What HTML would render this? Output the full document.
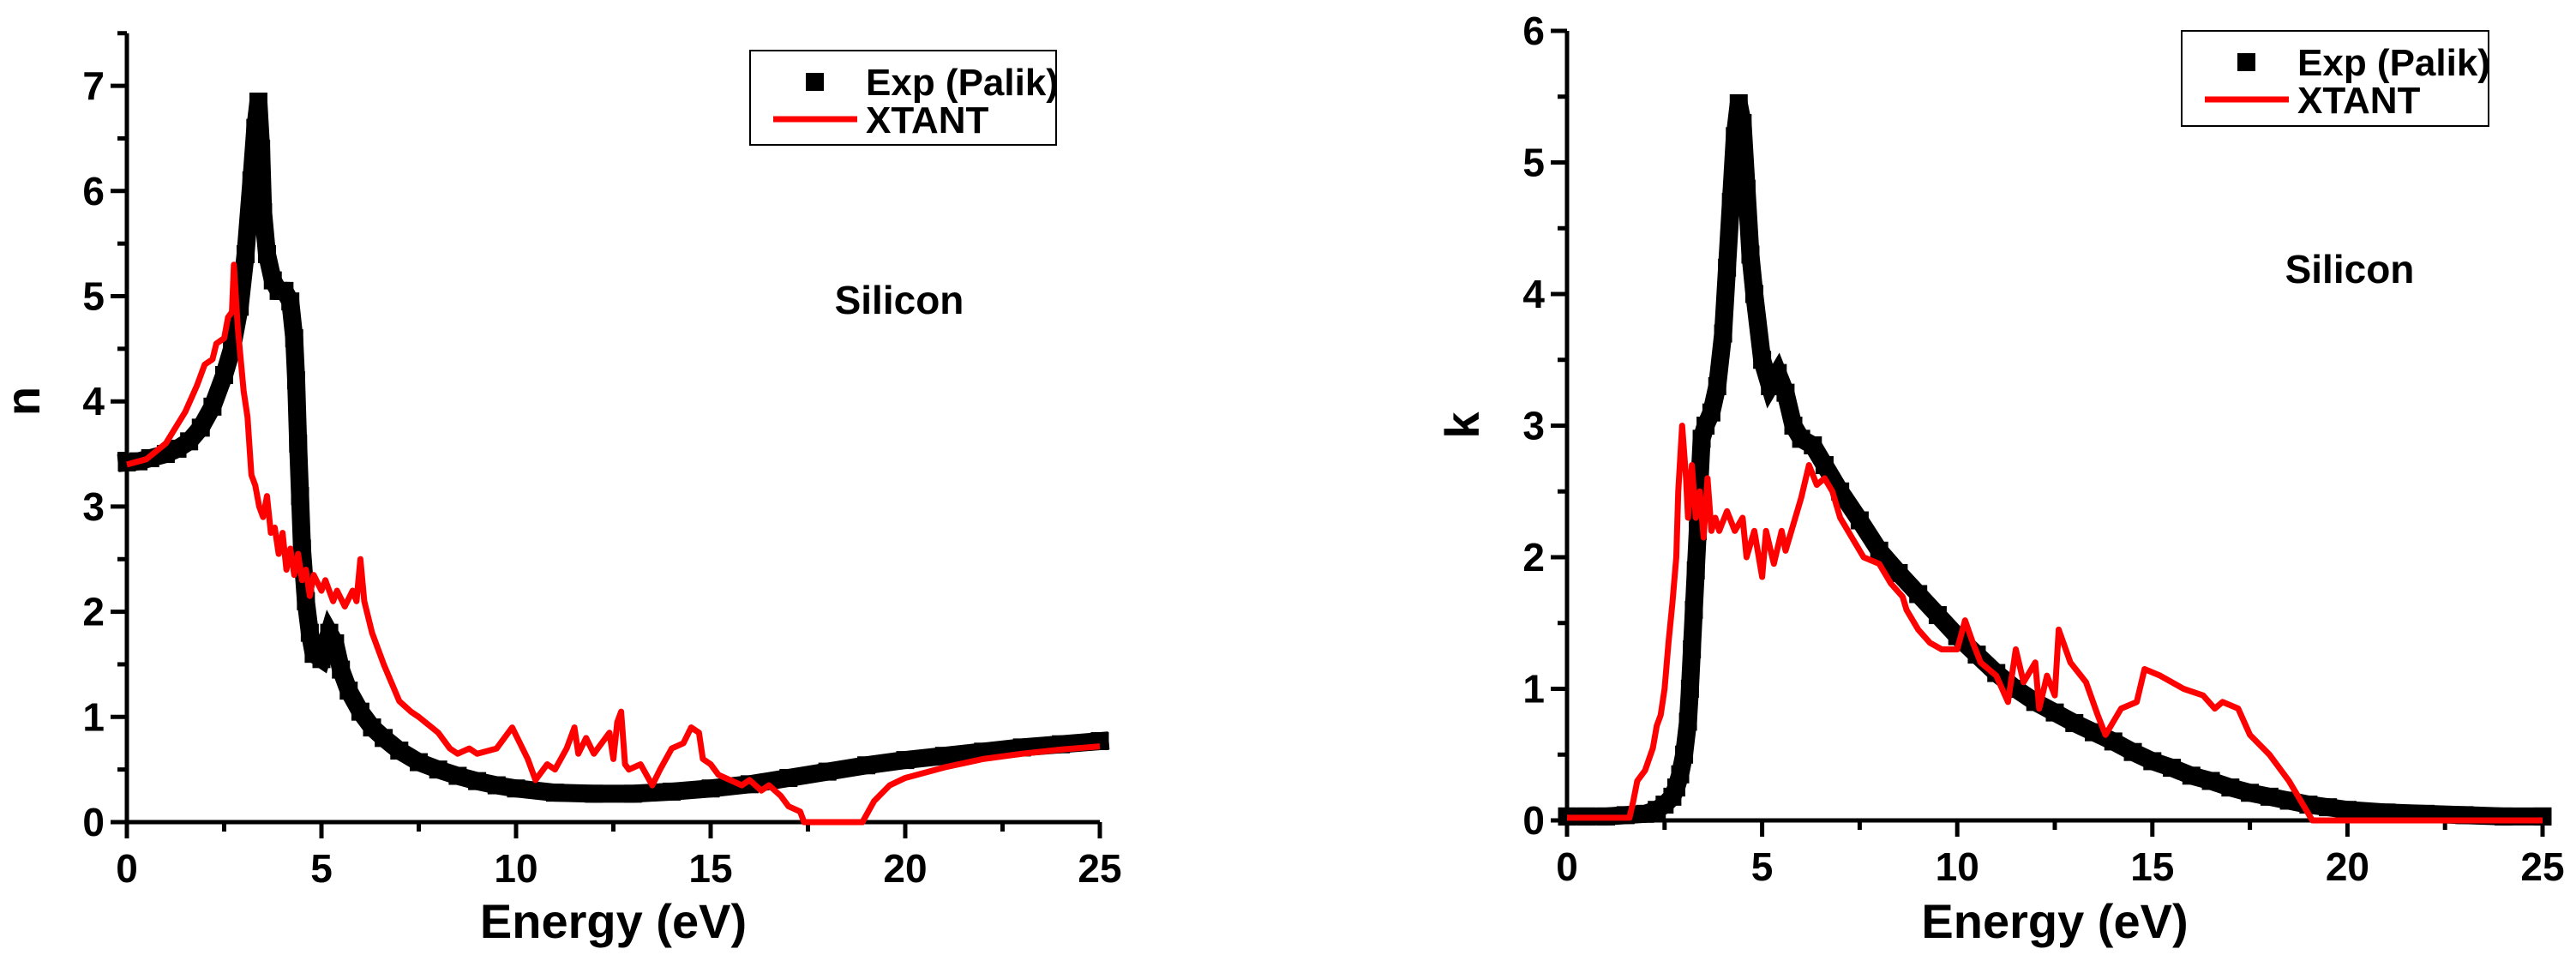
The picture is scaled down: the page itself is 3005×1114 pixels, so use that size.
<!DOCTYPE html>
<html><head><meta charset="utf-8"><style>
html,body{margin:0;padding:0;background:#fff;}
svg{display:block;font-family:"Liberation Sans",Arial,sans-serif;font-weight:bold;}
</style></head><body>
<svg id="fig" width="3005" height="1114" viewBox="0 0 3005 1114" xmlns="http://www.w3.org/2000/svg">
<rect width="3005" height="1114" fill="#fff"/>
</svg>
<script>
// ---- Left chart (n) data ----
const nExpE = [0,0.3,0.6,1,1.3,1.6,1.9,2.2,2.5,2.7,2.9,3.05,3.2,3.3,3.38,3.45,3.5,3.6,3.75,3.9,4.05,4.2,4.3,4.35,4.4,4.45,4.5,4.6,4.7,4.8,5.0,5.2,5.35,5.5,5.7,6.0,6.3,6.6,7.0,7.5,8,8.5,9,9.5,10,11,12,13,14,15,16,17,18,19,20,21,22,23,24,25];
const nExpV = [3.42,3.43,3.46,3.5,3.55,3.62,3.75,3.95,4.25,4.5,4.9,5.4,6.1,6.6,6.85,6.4,5.8,5.4,5.15,5.05,5.05,4.95,4.6,4.2,3.6,3.1,2.6,2.1,1.8,1.6,1.55,1.8,1.7,1.45,1.25,1.05,0.9,0.8,0.68,0.57,0.5,0.44,0.39,0.35,0.32,0.28,0.27,0.27,0.29,0.32,0.36,0.42,0.48,0.54,0.59,0.63,0.67,0.71,0.74,0.77];
const nSimE = [0,0.5,1,1.5,1.8,2,2.2,2.3,2.5,2.6,2.7,2.75,2.85,3.0,3.1,3.2,3.3,3.4,3.5,3.6,3.7,3.8,3.9,4.0,4.1,4.2,4.3,4.4,4.5,4.6,4.7,4.8,5,5.1,5.3,5.4,5.6,5.8,5.9,6.0,6.1,6.3,6.5,6.6,7,7.3,7.5,8,8.3,8.5,8.8,9,9.5,9.9,10.1,10.3,10.5,10.8,11,11.3,11.5,11.6,11.8,12,12.2,12.4,12.5,12.6,12.7,12.8,12.9,13.2,13.5,13.7,14,14.3,14.5,14.7,14.8,15,15.2,15.5,15.8,16,16.3,16.5,16.8,17,17.3,17.4,18.9,19.2,19.6,20,21,22,23,24,25];
const nSimV = [3.4,3.45,3.6,3.9,4.15,4.35,4.4,4.55,4.6,4.8,4.85,5.3,4.7,4.1,3.85,3.3,3.2,3.0,2.9,3.1,2.75,2.8,2.55,2.75,2.4,2.6,2.35,2.55,2.3,2.4,2.15,2.35,2.2,2.3,2.1,2.2,2.05,2.2,2.1,2.5,2.1,1.8,1.6,1.5,1.15,1.05,1.0,0.85,0.7,0.65,0.7,0.65,0.7,0.9,0.75,0.6,0.4,0.55,0.5,0.7,0.9,0.65,0.8,0.65,0.75,0.85,0.6,0.95,1.05,0.55,0.5,0.55,0.35,0.5,0.7,0.75,0.9,0.85,0.6,0.55,0.45,0.4,0.35,0.4,0.3,0.35,0.25,0.15,0.1,0,0,0.2,0.35,0.42,0.52,0.6,0.65,0.69,0.72];
// ---- Right chart (k) data ----
const kExpE = [0,0.5,1,1.5,2,2.3,2.5,2.7,2.8,2.9,3.0,3.1,3.15,3.2,3.25,3.3,3.35,3.4,3.45,3.55,3.7,3.85,4.0,4.1,4.2,4.3,4.4,4.5,4.6,4.7,4.8,5.0,5.2,5.4,5.6,5.8,6.0,6.3,6.6,7,7.5,8,8.5,9,9.5,10,10.5,11,11.5,12,12.5,13,13.5,14,14.5,15,15.5,16,16.5,17,17.5,18,18.5,19,19.5,20,21,22,23,24,25];
const kExpV = [0.03,0.03,0.03,0.04,0.05,0.08,0.12,0.18,0.25,0.35,0.5,0.75,1.0,1.3,1.6,1.9,2.2,2.6,2.9,3.0,3.1,3.3,3.7,4.2,4.7,5.2,5.45,5.3,4.8,4.3,4.0,3.5,3.3,3.4,3.25,3.0,2.9,2.85,2.7,2.5,2.28,2.05,1.88,1.72,1.56,1.4,1.26,1.12,1.0,0.9,0.82,0.74,0.67,0.6,0.52,0.45,0.4,0.34,0.3,0.25,0.21,0.18,0.15,0.12,0.1,0.08,0.06,0.05,0.04,0.03,0.03];
const kSimE = [0,1.6,1.7,1.8,2,2.2,2.3,2.4,2.5,2.6,2.7,2.8,2.85,2.95,3.05,3.1,3.2,3.3,3.4,3.5,3.6,3.7,3.8,3.9,4.1,4.3,4.5,4.6,4.8,5.0,5.1,5.3,5.5,5.6,5.8,6.0,6.2,6.4,6.6,6.8,7,7.3,7.6,8,8.3,8.6,8.7,9,9.3,9.6,10,10.2,10.4,10.6,11,11.3,11.5,11.7,12,12.1,12.3,12.5,12.6,12.9,13.3,13.6,13.8,14.2,14.6,14.8,15.2,15.5,15.8,16.3,16.6,16.8,17.2,17.5,18,18.5,18.9,19.1,25];
const kSimV = [0.02,0.02,0.15,0.3,0.38,0.55,0.72,0.8,1.0,1.35,1.65,2.0,2.5,3.0,2.6,2.3,2.7,2.3,2.5,2.15,2.6,2.2,2.3,2.2,2.35,2.2,2.3,2.0,2.2,1.85,2.2,1.95,2.2,2.05,2.25,2.45,2.7,2.55,2.6,2.5,2.3,2.15,2.0,1.95,1.8,1.7,1.6,1.45,1.35,1.3,1.3,1.52,1.35,1.2,1.1,0.9,1.3,1.05,1.2,0.85,1.1,0.95,1.45,1.2,1.05,0.8,0.65,0.85,0.9,1.15,1.1,1.05,1.0,0.95,0.85,0.9,0.85,0.65,0.5,0.3,0.1,0.0,0.0];

const xTickVals = [0,5,10,15,20,25];
const nTickVals = [0,1,2,3,4,5,6,7];
const kTickVals = [0,1,2,3,4,5,6];

const NS="http://www.w3.org/2000/svg";
const svg=document.getElementById('fig');
function el(tag,attrs,parent,text){const e=document.createElementNS(NS,tag);for(const k in attrs)e.setAttribute(k,attrs[k]);if(text!==undefined)e.textContent=text;(parent||svg).appendChild(e);return e;}

function chart(cfg){
  const g=el('g',{});
  
  
  const X=v=>cfg.x0+(v-0)/25*(cfg.x1-cfg.x0);
  const Y=v=>cfg.y0-v*cfg.py;
  // axes first
  const ax=el('line',{x1:cfg.x0,y1:cfg.y0,x2:cfg.x1,y2:cfg.y0,stroke:'#000','stroke-width':5},g);
  
  
  const ay=el('line',{x1:cfg.x0,y1:cfg.y0+2,x2:cfg.x0,y2:Y(cfg.ymax),stroke:'#000','stroke-width':5},g);
  
  
  for(let v=0;v<=25.01;v+=2.5){
    const major=Math.abs(v%5)<0.01;
    el('line',{x1:X(v),y1:cfg.y0,x2:X(v),y2:cfg.y0+(major?19:11),stroke:'#000','stroke-width':5},g);
  }
  xTickVals.forEach(v=>{
    const t=el('text',{x:X(v),y:cfg.y0+70,'text-anchor':'middle','font-size':46},g,String(v));
    
    
  });
  for(let v=0;v<=cfg.ymax+0.01;v+=0.5){
    const major=Math.abs(v%1)<0.01;
    el('line',{x1:cfg.x0-(major?19:11),y1:Y(v),x2:cfg.x0,y2:Y(v),stroke:'#000','stroke-width':5},g);
  }
  cfg.ticks.forEach(v=>{
    const t=el('text',{x:cfg.x0-26,y:Y(v)+16,'text-anchor':'end','font-size':46},g,String(v));
    
    
  });
  // exp band + squares
  const pts=cfg.eE.map((e,i)=>X(e)+','+Y(cfg.eV[i])).join(' ');
  const band=el('polyline',{points:pts,fill:'none',stroke:'#000','stroke-width':21,'stroke-linejoin':'miter','stroke-linecap':'square'},g);
  
  
  cfg.eE.forEach((e,i)=>{
    const r=el('rect',{x:X(e)-10.5,y:Y(cfg.eV[i])-10.5,width:21,height:21,fill:'#000'},g);
    
    
  });
  const sp=cfg.sE.map((e,i)=>X(e)+','+Y(cfg.sV[i])).join(' ');
  const line=el('polyline',{points:sp,fill:'none',stroke:'#ff0000','stroke-width':7,'stroke-linejoin':'round'},g);
  
  
  const xt=el('text',{x:(cfg.x0+cfg.x1)/2,y:1094,'text-anchor':'middle','font-size':56},g,'Energy (eV)');
  
  
  const yt=el('text',{x:cfg.ytx,y:cfg.yty,'text-anchor':'middle','font-size':56,transform:`rotate(-90 ${cfg.ytx} ${cfg.yty})`},g,cfg.ylabel);
  
  
  const si=el('text',{x:cfg.six,y:cfg.siy,'text-anchor':'middle','font-size':46},g,'Silicon');
  
  
  // legend
  const L=cfg.leg;
  const lg=el('g',{},g);
  
  
  el('rect',{x:L.x,y:L.y,width:L.w,height:L.h,fill:'#fff',stroke:'#000','stroke-width':2},lg);
  el('rect',{x:L.x+65,y:L.y+26,width:21,height:21,fill:'#000'},lg);
  el('line',{x1:L.x+27,y1:L.y+80,x2:L.x+125,y2:L.y+80,stroke:'#ff0000','stroke-width':7},lg);
  const t1=el('text',{x:L.x+135,y:L.y+52,'font-size':44},lg,'Exp (Palik)');
  
  
  const t2=el('text',{x:L.x+135,y:L.y+96,'font-size':44},lg,'XTANT');
  
  
}

chart({name:'n-chart',x0:148,x1:1283,y0:959,py:122.7,ymax:7.5,ticks:nTickVals,eE:nExpE,eV:nExpV,sE:nSimE,sV:nSimV,
  ylabel:'n',ytx:46,yty:468,six:1049,siy:366,leg:{x:875,y:59,w:357,h:110}});
chart({name:'k-chart',x0:1828,x1:2966,y0:957,py:153.5,ymax:6,ticks:kTickVals,eE:kExpE,eV:kExpV,sE:kSimE,sV:kSimV,
  ylabel:'k',ytx:1725,yty:496,six:2741,siy:330,leg:{x:2545,y:36,w:358,h:111}});
</script>
</body></html>
